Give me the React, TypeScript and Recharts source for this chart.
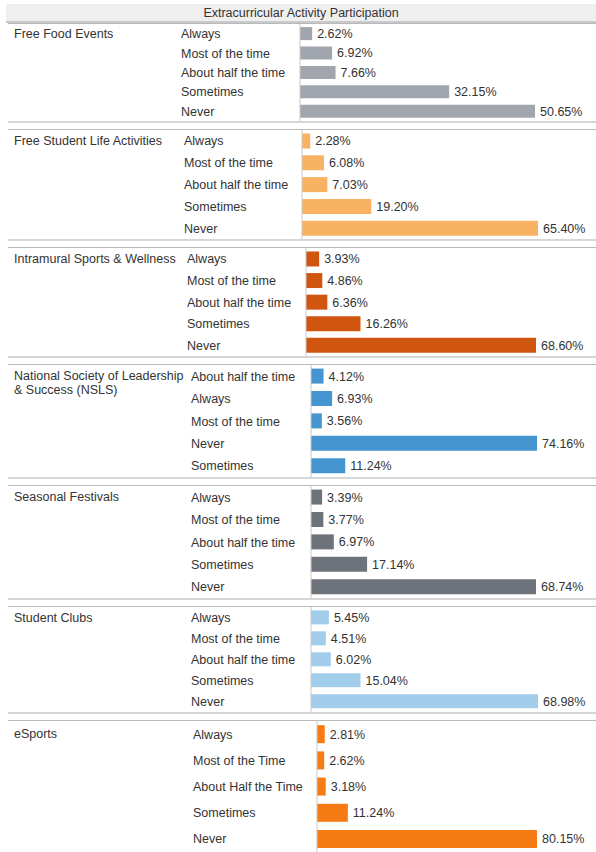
import React from "react";
import { BarChart, Bar, XAxis, YAxis, LabelList } from "recharts";

const TITLE = "Extracurricular Activity Participation";

const ACTIVITIES = [
  "Free Food Events",
  "Free Student Life Activities",
  "Intramural Sports & Wellness",
  "National Society of Leadership & Success (NSLS)",
  "Seasonal Festivals",
  "Student Clubs",
  "eSports",
];

const FREQ = ["Always", "Most of the time", "About half the time", "Sometimes", "Never"];
const NSLS_FREQ = ["About half the time", "Always", "Most of the time", "Never", "Sometimes"];
const ESPORTS_FREQ = ["Always", "Most of the Time", "About Half the Time", "Sometimes", "Never"];

const freeFood = [2.62, 6.92, 7.66, 32.15, 50.65];
const studentLife = [2.28, 6.08, 7.03, 19.2, 65.4];
const intramural = [3.93, 4.86, 6.36, 16.26, 68.6];
const nsls = [4.12, 6.93, 3.56, 74.16, 11.24];
const seasonal = [3.39, 3.77, 6.97, 17.14, 68.74];
const clubs = [5.45, 4.51, 6.02, 15.04, 68.98];
const esports = [2.81, 2.62, 3.18, 11.24, 80.15];

const FONT = "'Liberation Sans', Arial, sans-serif";
const TEXT = "#333";
const W = 596;

// layout per panel: plot top/bottom, sub label x, axis x, bar end x for the max value
const LAYOUT = [
  { top: 24, bottom: 121, subX: 181, axisX: 300, endX: 535, color: "#a1a5ad" },
  { top: 130, bottom: 239, subX: 184, axisX: 302, endX: 538, color: "#f9b261" },
  { top: 248, bottom: 356, subX: 187, axisX: 306, endX: 536, color: "#d0560f" },
  { top: 365, bottom: 477, subX: 191, axisX: 311, endX: 537, color: "#4595d0" },
  { top: 486, bottom: 598, subX: 191, axisX: 311, endX: 536, color: "#6e727b" },
  { top: 607, bottom: 712, subX: 191, axisX: 311, endX: 538, color: "#a2cdea" },
  { top: 721, bottom: 852, subX: 193, axisX: 317, endX: 537, color: "#f57b12" },
];

const SERIES = [
  { labels: FREQ, values: freeFood },
  { labels: FREQ, values: studentLife },
  { labels: FREQ, values: intramural },
  { labels: NSLS_FREQ, values: nsls },
  { labels: FREQ, values: seasonal },
  { labels: FREQ, values: clubs },
  { labels: ESPORTS_FREQ, values: esports },
];

function Panel({ idx }: { idx: number }) {
  const { top, bottom, subX, axisX, endX, color } = LAYOUT[idx];
  const { labels, values } = SERIES[idx];
  const data = labels.map((label, i) => ({ label, value: values[i] }));
  const max = Math.max(...values);
  const h = bottom - top;
  const band = h / data.length;
  return (
    <div style={{ position: "absolute", left: 0, top, width: W, height: h }}>
      <div style={{ position: "absolute", left: 8, right: 0, top: -1, borderTop: "1px solid #b9b9b9" }} />
      <div style={{ position: "absolute", left: 8, right: 0, top: h, borderTop: "2px solid #d6d6d6" }} />
      <div
        style={{
          position: "absolute", left: 14, top: band / 2 - 7, width: subX - 10,
          fontFamily: FONT, fontSize: 12.5, lineHeight: "14px", color: TEXT,
        }}
      >
        {ACTIVITIES[idx]}
      </div>
      <BarChart
        layout="vertical" width={W} height={h} data={data}
        margin={{ top: 0, bottom: 0, left: 0, right: W - endX }}
        barCategoryGap="16%"
      >
        <XAxis type="number" domain={[0, max]} hide />
        <YAxis
          type="category" dataKey="label" width={axisX} interval={0}
          axisLine={{ stroke: "#c9c9c9" }} tickLine={false}
          tick={(p: any) => (
            <text x={subX} y={p.y} dy={4.5} fontSize={12.5} fontFamily={FONT} fill={TEXT} textAnchor="start">
              {p.payload.value}
            </text>
          )}
        />
        <Bar dataKey="value" fill={color} isAnimationActive={false}>
          <LabelList
            dataKey="value" position="right" offset={5}
            formatter={(v: any) => `${Number(v).toFixed(2)}%`}
            style={{ fontSize: 12.5, fontFamily: FONT, fill: TEXT }}
          />
        </Bar>
      </BarChart>
    </div>
  );
}

export default function App() {
  return (
    <div style={{ position: "absolute", left: 0, top: 0, width: W, height: 852, background: "#fff", overflow: "hidden" }}>
      <div
        style={{
          position: "absolute", left: 6, width: W - 6, top: 4, height: 17,
          background: "#efefef", borderBottom: "2px solid #c9c9c9",
          fontFamily: FONT, fontSize: 12.5, lineHeight: "18px", color: TEXT, textAlign: "center",
        }}
      >
        {TITLE}
      </div>
      {LAYOUT.map((_, i) => (
        <Panel key={i} idx={i} />
      ))}
    </div>
  );
}
